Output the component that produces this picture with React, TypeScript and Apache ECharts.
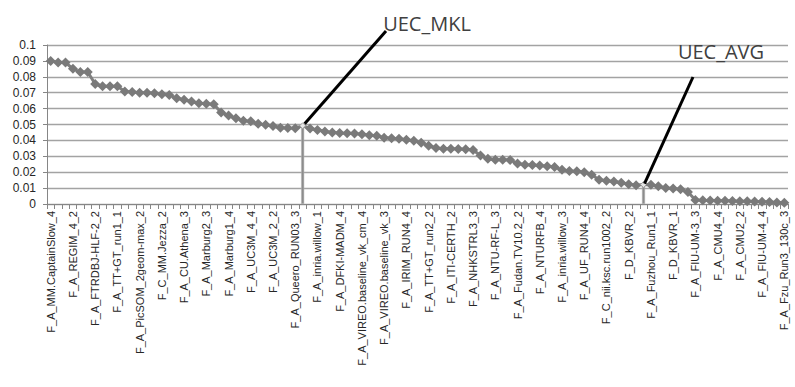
import React, { useEffect, useRef } from "react";
import * as echarts from "echarts";

// Labelled runs (every third category is labelled on the axis)
const labeledRuns = [
  "F_A_MM.CaptainSlow_4",
  "F_A_REGIM_4_2",
  "F_A_FTRDBJ-HLF-2_2",
  "F_A_TT+GT_run1_1",
  "F_A_PicSOM_2geom-max_2",
  "F_C_MM.Jezza_2",
  "F_A_CU.Athena_3",
  "F_A_Marburg2_3",
  "F_A_Marburg1_4",
  "F_A_UC3M_4_4",
  "F_A_UC3M_2_2",
  "F_A_Queero_RUN03_3",
  "F_A_inria.willow_1",
  "F_A_DFKI-MADM_4",
  "F_A_VIREO.baseline_vk_cm_4",
  "F_A_VIREO.baseline_vk_3",
  "F_A_IRIM_RUN4_4",
  "F_A_TT+GT_run2_2",
  "F_A_ITI-CERTH_2",
  "F_A_NHKSTRL3_3",
  "F_A_NTU-RF-L_3",
  "F_A_Fudan.TV10.2_2",
  "F_A_NTURFB_4",
  "F_A_inria.willow_3",
  "F_A_UF_RUN4_4",
  "F_C_nii.ksc.run1002_2",
  "F_D_KBVR_2",
  "F_A_Fuzhou_Run1_1",
  "F_D_KBVR_1",
  "F_A_FIU-UM-3_3",
  "F_A_CMU4_4",
  "F_A_CMU2_2",
  "F_A_FIU-UM-4_4",
  "F_A_Fzu_Run3_130c_3",
];

// Score of every run, sorted
const lineValues = [
  0.09, 0.089, 0.089, 0.085, 0.083, 0.083, 0.0755, 0.074, 0.074, 0.074,
  0.0707, 0.0705, 0.07, 0.07, 0.0697, 0.069, 0.0686, 0.0665, 0.0655, 0.0644,
  0.0634, 0.063, 0.0628, 0.0575, 0.0556, 0.054, 0.0523, 0.052, 0.0504, 0.0498,
  0.049, 0.048, 0.0478, 0.0477, 0.0492, 0.0475, 0.0466, 0.0456, 0.045, 0.0447,
  0.0445, 0.0443, 0.0438, 0.0433, 0.0429, 0.0416, 0.0414, 0.041, 0.0404, 0.0398,
  0.0385, 0.0366, 0.0352, 0.0348, 0.0347, 0.0346, 0.0345, 0.034, 0.0305, 0.0284,
  0.0279, 0.0278, 0.0276, 0.0255, 0.0247, 0.0245, 0.0242, 0.0238, 0.0232, 0.0215,
  0.0208, 0.0206, 0.02, 0.0184, 0.0153, 0.0146, 0.0142, 0.0134, 0.0125, 0.0118,
  0.0122, 0.0121, 0.0112, 0.01, 0.0097, 0.0092, 0.0075, 0.0025, 0.0023, 0.0022,
  0.0021, 0.002, 0.0019, 0.0018, 0.0017, 0.0016, 0.0014, 0.0012, 0.001, 0.0008,
];

const uecNames = ["UEC_MKL", "UEC_AVG"];
const uecIndices = [34, 80];
const uecValues = [0.0492, 0.0122];

const yMin = 0;
const yMax = 0.1;
const yInterval = 0.01;

const categories = lineValues.map((_, i) => {
  const u = uecIndices.indexOf(i);
  if (u >= 0) return uecNames[u];
  if (i % 3 === 0) return labeledRuns[i / 3];
  return "run_" + i;
});

export default function App() {
  const ref = useRef<HTMLDivElement>(null);

  useEffect(() => {
    if (!ref.current) return;
    const chart = echarts.init(ref.current, undefined, { renderer: "svg" });

    const barData = lineValues.map((_, i) => {
      const u = uecIndices.indexOf(i);
      return u >= 0 ? uecValues[u] : null;
    });

    const lineData = lineValues.map((v, i) =>
      uecIndices.indexOf(i) >= 0
        ? { value: v, symbolSize: 6, itemStyle: { color: "#e6e6e6", borderColor: "#a0a0a0", borderWidth: 1 } }
        : v
    );

    chart.setOption({
      animation: false,
      backgroundColor: "#ffffff",
      grid: { left: 47, right: 7, top: 45, bottom: 183, containLabel: false },
      xAxis: {
        type: "category",
        data: categories,
        boundaryGap: true,
        axisLine: { show: true, lineStyle: { color: "#868686", width: 1 } },
        axisTick: { show: true, interval: 0, length: 5, lineStyle: { color: "#868686" } },
        axisLabel: {
          interval: 2,
          rotate: 90,
          margin: 7,
          fontSize: 11,
          fontFamily: "Liberation Sans",
          color: "#262626",
        },
        splitLine: { show: false },
      },
      yAxis: {
        type: "value",
        min: yMin,
        max: yMax,
        interval: yInterval,
        axisLine: { show: true, lineStyle: { color: "#868686", width: 1 } },
        axisTick: { show: true, length: 4, lineStyle: { color: "#868686" } },
        axisLabel: {
          margin: 11,
          fontSize: 12,
          fontFamily: "Liberation Sans",
          color: "#262626",
        },
        splitLine: { show: true, lineStyle: { color: "#a3a3a3", width: 1.3 } },
      },
      series: [
        {
          type: "bar",
          data: barData,
          barWidth: 3,
          itemStyle: { color: "#8c8c8c", borderColor: "#b5b5b5", borderWidth: 0.5 },
          z: 2,
        },
        {
          type: "line",
          data: lineData,
          symbol: "diamond",
          symbolSize: 10,
          showAllSymbol: true,
          lineStyle: { color: "#7f7f7f", width: 3 },
          itemStyle: { color: "#7a7a7a" },
          z: 3,
        },
      ],
    });

    const pMkl = chart.convertToPixel({ gridIndex: 0 }, [uecIndices[0], uecValues[0]]) as number[];
    const pAvg = chart.convertToPixel({ gridIndex: 0 }, [uecIndices[1], uecValues[1]]) as number[];

    chart.setOption({
      graphic: [
        {
          type: "line",
          shape: { x1: pMkl[0] + 2, y1: pMkl[1] - 2, x2: 386, y2: 31 },
          style: { stroke: "#000000", lineWidth: 3 },
          z: 10,
        },
        {
          type: "line",
          shape: { x1: pAvg[0] + 1, y1: pAvg[1] - 1, x2: 693, y2: 77 },
          style: { stroke: "#000000", lineWidth: 3 },
          z: 10,
        },
        {
          type: "text",
          x: 427,
          y: 23,
          style: {
            text: uecNames[0],
            fontSize: 20,
            fontFamily: "Open Sans",
            fill: "#404040",
            textAlign: "center",
            textVerticalAlign: "middle",
          },
          z: 10,
        },
        {
          type: "text",
          x: 721,
          y: 51,
          style: {
            text: uecNames[1],
            fontSize: 20,
            fontFamily: "Open Sans",
            fill: "#404040",
            textAlign: "center",
            textVerticalAlign: "middle",
          },
          z: 10,
        },
      ],
    });

    return () => chart.dispose();
  }, []);

  return (
    <div
      ref={ref}
      style={{ position: "fixed", left: 0, top: 0, width: 795, height: 387, background: "#fff" }}
    />
  );
}
